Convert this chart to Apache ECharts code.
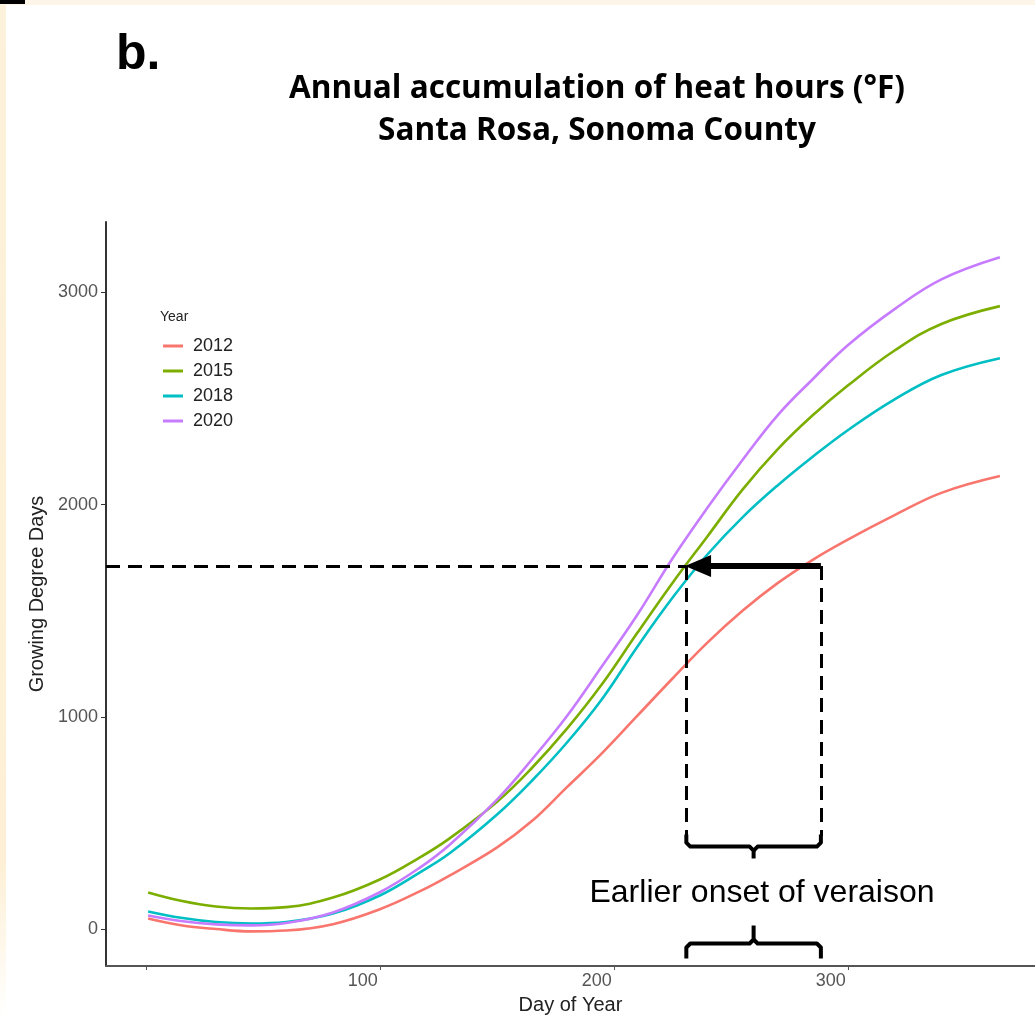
<!DOCTYPE html>
<html>
<head>
<meta charset="utf-8">
<script src="https://cdn.jsdelivr.net/npm/echarts@6/dist/echarts.min.js"></script>
<style>
    html, body { margin: 0; padding: 0; background: #fff; }
    #chart { width: 1035px; height: 1018px; }
</style>
</head>
<body>
<div id="chart"></div>
<script>
// day of year for every sampled point
const days = [1, 15, 30, 45, 60, 80, 100, 117, 130, 150, 165, 180, 195, 210, 225, 240, 255, 270, 285, 300, 320, 340, 365]
// growing degree days per year
const gdd2012 = [52, 20, 2, -9, -5, 25, 95, 179, 255, 385, 510, 670, 830, 1005, 1180, 1350, 1500, 1630, 1740, 1835, 1950, 2055, 2134]
const gdd2015 = [174, 135, 108, 99, 105, 150, 235, 338, 430, 600, 760, 945, 1155, 1395, 1630, 1850, 2070, 2260, 2420, 2560, 2725, 2850, 2934]
const gdd2018 = [85, 55, 35, 28, 35, 75, 160, 268, 360, 540, 700, 880, 1085, 1330, 1560, 1765, 1940, 2090, 2225, 2350, 2495, 2610, 2689]
const gdd2020 = [66, 40, 24, 19, 30, 80, 175, 290, 400, 610, 800, 1005, 1240, 1480, 1745, 1985, 2210, 2420, 2590, 2750, 2920, 3060, 3164]
const years = ['2012', '2015', '2018', '2020']
const colors = ['#F8766D', '#7CAE00', '#00BFC4', '#C77CFF']
const xTicks = [0, 100, 200, 300]
const xLabels = [100, 200, 300]
const yTicks = [0, 1000, 2000, 3000]
// annotation: veraison threshold and the two onset days
const threshold = 1711
const onsetDays = [231, 288.5]
const dashBottom = 440
const braceTop = 390
const braceBottom = -66

const chart = echarts.init(document.getElementById('chart'))
const font = 'Liberation Sans, Arial, sans-serif'

const zip = (vals) => days.map((d, i) => [d, vals[i]])
const allGdd = [gdd2012, gdd2015, gdd2018, gdd2020]

const lineSeries = years.map((y, i) => ({
    name: y,
    type: 'line',
    data: zip(allGdd[i]),
    smooth: 0.4,
    showSymbol: false,
    lineStyle: { width: 2.6, color: colors[i] },
    itemStyle: { color: colors[i] },
    z: 2
}))

const dash = { color: '#000', width: 3, type: [14, 8] }

const option = {
    backgroundColor: '#fff',
    animation: false,
    grid: { left: 106, right: 0, top: 222, bottom: 52, outerBoundsMode: 'none', containLabel: false },
    xAxis: {
        type: 'value',
        min: -17,
        max: 380,
        name: 'Day of Year',
        nameLocation: 'middle',
        nameGap: 29,
        nameTextStyle: { fontFamily: font, fontSize: 20, color: '#222' },
        axisLine: { onZero: false, lineStyle: { color: '#555', width: 2 } },
        axisTick: { show: true, length: 4, customValues: xTicks, lineStyle: { color: '#555' } },
        axisLabel: {
            customValues: xLabels,
            formatter: (v) => String(v),
            fontFamily: font, fontSize: 18, color: '#555',
            margin: 6,
            padding: [0, 34, 0, 0]
        },
        splitLine: { show: false }
    },
    yAxis: {
        type: 'value',
        min: -172,
        max: 3330,
        name: 'Growing Degree Days',
        nameLocation: 'middle',
        nameGap: 55,
        nameTextStyle: { fontFamily: font, fontSize: 20, color: '#222' },
        axisLine: { show: true, onZero: false, lineStyle: { color: '#333', width: 2 } },
        axisTick: { show: true, length: 5, customValues: yTicks, lineStyle: { color: '#333' } },
        axisLabel: { customValues: yTicks, formatter: (v) => String(v), fontFamily: font, fontSize: 18, color: '#555', margin: 8 },
        splitLine: { show: false }
    },
    legend: {
        data: years,
        orient: 'vertical',
        left: 163,
        top: 337,
        padding: 0,
        icon: 'rect',
        itemWidth: 20,
        itemHeight: 3,
        itemGap: 7,
        textStyle: { fontFamily: font, fontSize: 18, color: '#222', padding: [0, 0, 0, 5] }
    },
    series: lineSeries.concat([{
        name: 'annot',
        type: 'line',
        data: [],
        silent: true,
        z: 5,
        markLine: {
            silent: true,
            animation: false,
            symbol: 'none',
            label: { show: false },
            data: [
                [{ coord: [-17, threshold], lineStyle: dash }, { coord: [onsetDays[0], threshold] }],
                [{ coord: [onsetDays[0], threshold], lineStyle: dash }, { coord: [onsetDays[0], dashBottom] }],
                [{ coord: [onsetDays[1], threshold], lineStyle: dash }, { coord: [onsetDays[1], dashBottom] }],
                [{ coord: [onsetDays[1], threshold], symbol: 'none', lineStyle: { color: '#000', width: 6, type: 'solid' } },
                 { coord: [onsetDays[0] + 5, threshold], symbol: 'triangle', symbolSize: [22, 26] }]
            ]
        }
    }])
}
chart.setOption(option)

// braces and text placed from data coordinates
const x1 = chart.convertToPixel({ gridIndex: 0 }, [onsetDays[0], 0])[0]
const x2 = chart.convertToPixel({ gridIndex: 0 }, [onsetDays[1], 0])[0]
const xm = (x1 + x2) / 2
const yT = chart.convertToPixel({ gridIndex: 0 }, [0, braceTop])[1]
const yB = chart.convertToPixel({ gridIndex: 0 }, [0, braceBottom])[1]
const c = 4
const braceStyle = { stroke: '#000', lineWidth: 4, fill: null, lineJoin: 'round' }
const topLeft = [[x1, yT - 12], [x1, yT - c], [x1 + c, yT], [xm - c, yT], [xm, yT + c], [xm, yT + 12]]
const topRight = [[xm, yT + c], [xm + c, yT], [x2 - c, yT], [x2, yT - c], [x2, yT - 12]]
const botLeft = [[x1, yB + 15], [x1, yB + c], [x1 + c, yB], [xm - c, yB], [xm, yB - c], [xm, yB - 18]]
const botRight = [[xm, yB - c], [xm + c, yB], [x2 - c, yB], [x2, yB + c], [x2, yB + 15]]

const edge = { type: 'linear', x: 0, y: 0, x2: 0, y2: 1, colorStops: [{ offset: 0, color: '#fcf1da' }, { offset: 0.85, color: '#fdf0d6' }, { offset: 1, color: '#ffffff' }] }

chart.setOption({
    graphic: [
        // cream page edge
        { type: 'rect', shape: { x: 0, y: 0, width: 6, height: 1018 }, style: { fill: edge }, z: 10 },
        { type: 'rect', shape: { x: 0, y: 0, width: 1035, height: 5 }, style: { fill: '#fdf6e8' }, z: 10 },
        { type: 'rect', shape: { x: 0, y: 0, width: 25, height: 4 }, style: { fill: '#000' }, z: 11 },
        // panel letter and title
        { type: 'text', x: 116, y: 30, style: { text: 'b.', font: 'bold 50px Liberation Sans, Arial', fill: '#000' }, z: 10 },
        { type: 'text', x: 597, y: 68, style: { text: 'Annual accumulation of heat hours (°F)\nSanta Rosa, Sonoma County', font: 'bold 31.5px Open Sans', fill: '#000', align: 'center', lineHeight: 42 }, z: 10 },
        { type: 'text', x: 160, y: 310, style: { text: 'Year', font: '14px Liberation Sans, Arial', fill: '#222' }, z: 10 },
        // brace annotation
        { type: 'polyline', shape: { points: topLeft }, style: braceStyle, z: 10 },
        { type: 'polyline', shape: { points: topRight }, style: braceStyle, z: 10 },
        { type: 'polyline', shape: { points: botLeft }, style: braceStyle, z: 10 },
        { type: 'polyline', shape: { points: botRight }, style: braceStyle, z: 10 },
        { type: 'text', x: 762, y: 893, style: { text: 'Earlier onset of veraison', font: '32px Liberation Sans, Arial', fill: '#000', align: 'center', verticalAlign: 'middle' }, z: 10 }
    ]
})
</script>
</body>
</html>
